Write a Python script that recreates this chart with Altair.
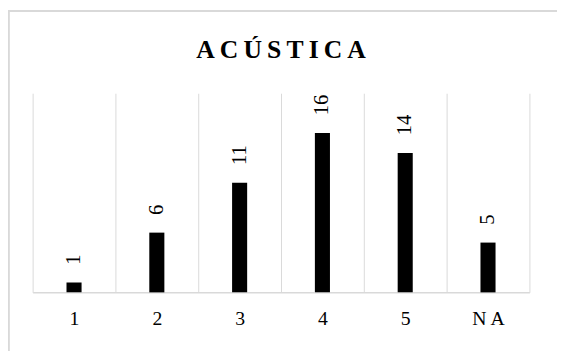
import altair as alt
import pandas as pd

categories = ["1", "2", "3", "4", "5", "NA"]
values = [1, 6, 11, 16, 14, 5]
title_text = "ACÚSTICA"

df = pd.DataFrame({"cat": categories, "val": values})
title_df = pd.DataFrame({"t": ["\u2009".join(title_text)]})

FONT = "Liberation Serif"
GRID = "#d9d9d9"

x_enc = alt.X(
    "cat:N",
    sort=categories,
    scale=alt.Scale(paddingInner=0, paddingOuter=0),
    axis=alt.Axis(
        title=None,
        labelAngle=0,
        labelFont=FONT,
        labelFontSize=20,
        labelColor="#000000",
        labelPadding=17,
        labelExpr="datum.label == 'NA' ? 'N\u2009A' : datum.label",
        ticks=False,
        grid=True,
        tickBand="extent",
        gridColor=GRID,
        gridWidth=1,
        domainColor=GRID,
        domainWidth=1.5,
    ),
)
y_enc = alt.Y("val:Q", scale=alt.Scale(domain=[0, 20], nice=False), axis=None)

bars = alt.Chart(df).mark_bar(
    color="#000000", width=alt.RelativeBandSize(0.182)
).encode(x=x_enc, y=y_enc)

labels = alt.Chart(df).mark_text(
    angle=270, align="left", baseline="middle", dx=18,
    font=FONT, fontSize=21, color="#000000",
).encode(x=x_enc, y=y_enc, text="val:Q")

border = alt.Chart(df).mark_rect(
    fill=None, stroke=GRID, strokeWidth=1.5
).encode(
    x=alt.value(-24.5), x2=alt.value(540),
    y=alt.value(-83.5), y2=alt.value(270),
)

title = alt.Chart(title_df).mark_text(
    font=FONT, fontSize=26, fontWeight="bold", color="#000000",
    align="center", baseline="alphabetic",
).encode(x=alt.value(252), y=alt.value(-36), text="t:N")

chart = alt.layer(border, bars, labels, title).properties(
    width=504, height=202,
    autosize=alt.AutoSizeParams(type="none"),
    padding={"left": 25, "top": 84, "right": 28, "bottom": 57},
).configure_view(stroke=None)

chart.save("out.html", embed_options={"renderer": "svg", "actions": False})
